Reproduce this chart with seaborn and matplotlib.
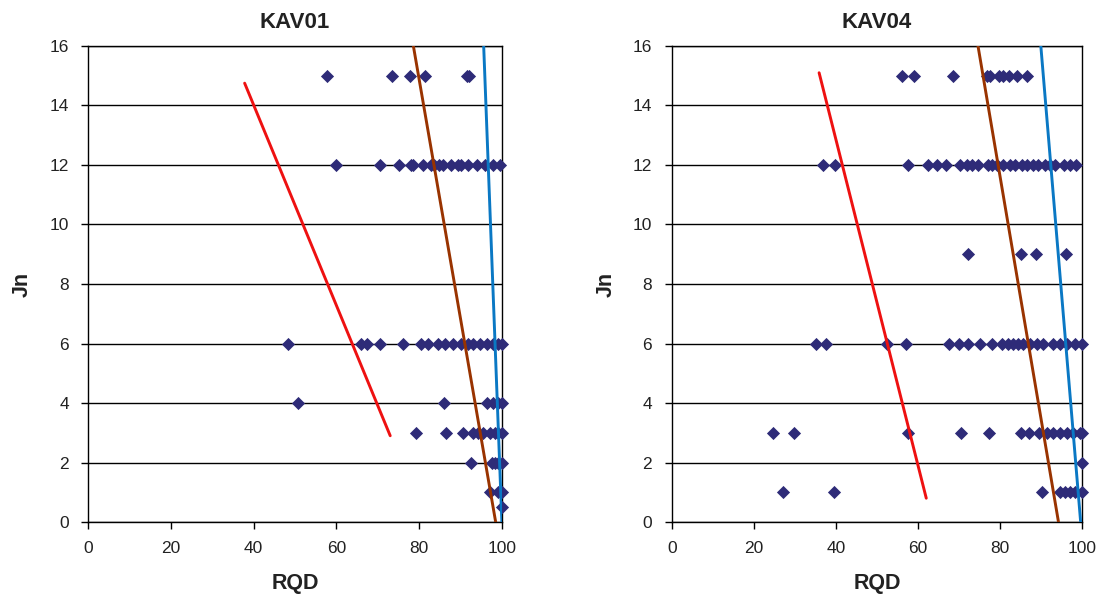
import numpy as np
import pandas as pd
import matplotlib
matplotlib.use("Agg")
import matplotlib.pyplot as plt
import seaborn as sns

# ---------------- data ----------------
# KAV01 scatter (RQD, Jn)
kav01_jn15 = [57.7, 73.5, 77.7, 81.5, 91.6, 92.0]
kav01_jn12 = [60.0, 70.6, 75.2, 78.1, 78.5, 80.9, 82.9, 83.7, 84.9, 85.8, 87.8, 89.4,
              90.2, 91.8, 93.9, 95.9, 97.9, 99.5]
kav01_jn6 = [48.4, 65.9, 67.4, 70.6, 76.1, 80.5, 82.1, 84.6, 86.2, 88.2, 90.2, 91.8,
             93.1, 94.7, 96.3, 97.9, 99.1, 100.0]
kav01_jn4 = [50.7, 85.9, 96.5, 97.9, 99.1, 100.0]
kav01_jn3 = [79.3, 86.6, 90.6, 93.1, 94.3, 95.5, 97.1, 98.3, 99.1, 100.0]
kav01_jn2 = [92.6, 97.5, 98.3, 99.1, 100.0]
kav01_jn1 = [97.1, 99.1, 100.0]
kav01_jn05 = [100.0]

# KAV04 scatter (RQD, Jn)
kav04_jn15 = [56.0, 59.0, 68.4, 76.7, 77.5, 79.8, 80.8, 82.2, 84.2, 86.6]
kav04_jn12 = [36.9, 39.8, 57.5, 62.3, 64.5, 66.8, 70.2, 71.8, 73.1, 74.7, 77.1, 77.9,
              79.2, 80.8, 82.3, 83.6, 85.2, 86.5, 88.1, 89.3, 91.0, 92.2, 93.4, 95.6,
              97.1, 98.5]
kav04_jn9 = [72.2, 85.1, 88.7, 96.0]
kav04_jn6 = [35.1, 37.5, 52.4, 57.1, 67.6, 70.0, 72.2, 75.1, 78.1, 80.5, 82.0, 83.2,
             84.4, 85.6, 87.3, 88.9, 90.5, 92.9, 94.6, 96.2, 98.2, 99.9]
kav04_jn3 = [24.7, 29.8, 57.6, 70.4, 77.3, 85.1, 87.0, 89.5, 91.3, 92.9, 94.6, 96.2,
             97.8, 99.4, 100.0]
kav04_jn2 = [100.0]
kav04_jn1 = [27.2, 39.5, 90.3, 94.6, 95.8, 97.0, 98.2, 99.9]

# boundary lines: (RQD start, RQD end), (Jn start, Jn end)
kav01_red_x, kav01_red_y = [37.8, 73.0], [14.75, 2.9]
kav01_brown_x, kav01_brown_y = [78.6, 98.5], [16.0, 0.0]
kav01_blue_x, kav01_blue_y = [95.6, 100.0], [16.0, 0.0]

kav04_red_x, kav04_red_y = [35.9, 62.0], [15.1, 0.8]
kav04_brown_x, kav04_brown_y = [74.6, 94.2], [16.0, 0.0]
kav04_blue_x, kav04_blue_y = [89.9, 99.6], [16.0, 0.0]

titles = ["KAV01", "KAV04"]
x_ticks = [0, 20, 40, 60, 80, 100]
y_ticks = [0, 2, 4, 6, 8, 10, 12, 14, 16]


def to_df(groups):
    rows = []
    for jn, vals in groups:
        for v in vals:
            rows.append((v, jn))
    return pd.DataFrame(rows, columns=["RQD", "Jn"])


kav01 = to_df([(15, kav01_jn15), (12, kav01_jn12), (6, kav01_jn6), (4, kav01_jn4),
               (3, kav01_jn3), (2, kav01_jn2), (1, kav01_jn1), (0.5, kav01_jn05)])
kav04 = to_df([(15, kav04_jn15), (12, kav04_jn12), (9, kav04_jn9), (6, kav04_jn6),
               (3, kav04_jn3), (2, kav04_jn2), (1, kav04_jn1)])

lines01 = [(kav01_red_x, kav01_red_y, "#EE1111"),
           (kav01_brown_x, kav01_brown_y, "#993300"),
           (kav01_blue_x, kav01_blue_y, "#0A78C4")]
lines04 = [(kav04_red_x, kav04_red_y, "#EE1111"),
           (kav04_brown_x, kav04_brown_y, "#993300"),
           (kav04_blue_x, kav04_blue_y, "#0A78C4")]

# ---------------- plot ----------------
sns.set_style("ticks")
plt.rcParams["font.family"] = ["Liberation Sans", "DejaVu Sans"]

fig = plt.figure(figsize=(10.97, 6.01), dpi=100)
ax1 = fig.add_axes([0.0805, 0.1314, 0.3770, 0.7921])
ax2 = fig.add_axes([0.6123, 0.1314, 0.3743, 0.7921])

for ax, df, lines, title in [(ax1, kav01, lines01, titles[0]),
                             (ax2, kav04, lines04, titles[1])]:
    ax.set_xlim(0, 100)
    ax.set_ylim(0, 16)
    ax.set_yticks(y_ticks)
    ax.set_xticks(x_ticks)
    ax.yaxis.grid(True, color="black", linewidth=1.0)
    ax.set_axisbelow(True)
    sns.scatterplot(data=df, x="RQD", y="Jn", ax=ax, marker="D", s=45,
                    color="#2E2B78", edgecolor="#2E2B78", linewidth=0, zorder=3,
                    clip_on=False)
    for xs, ys, c in lines:
        sns.lineplot(x=xs, y=ys, ax=ax, color=c, linewidth=2.1, sort=False,
                     estimator=None, zorder=4)
    for side in ["left", "bottom", "right", "top"]:
        ax.spines[side].set_visible(True)
        ax.spines[side].set_color("black")
        ax.spines[side].set_linewidth(1.0)
    ax.tick_params(axis="both", direction="out", length=5, width=1, labelsize=12.5,
                   color="black", labelcolor="#222222")
    ax.tick_params(axis="y", pad=9)
    ax.tick_params(axis="x", pad=9)
    ax.set_xlabel("RQD", fontsize=15.5, fontweight="bold", labelpad=12,
                  color="#222222")
    ax.set_ylabel("Jn", fontsize=15.5, fontweight="bold", labelpad=12,
                  color="#222222")
    ax.set_title(title, fontsize=16, fontweight="bold", pad=13, color="#222222")

fig.savefig("out.png", dpi=100)
